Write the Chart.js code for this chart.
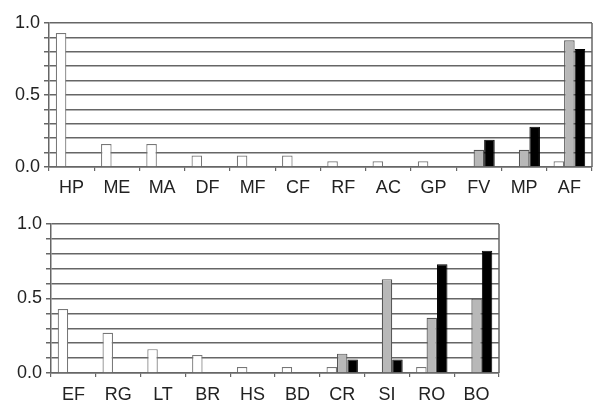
<!DOCTYPE html>
<html>
<head>
<meta charset="utf-8">
<script src="https://cdn.jsdelivr.net/npm/chart.js@4"></script>
<style>
  html, body { margin: 0; padding: 0; background: #fff; }
  .box { position: absolute; left: 0; width: 601px; }
  #top-box { top: 0; height: 200px; }
  #bottom-box { top: 200px; height: 210px; }
</style>
</head>
<body>
<div class="box" id="top-box"><canvas id="top-chart" width="601" height="200"></canvas></div>
<div class="box" id="bottom-box"><canvas id="bottom-chart" width="601" height="210"></canvas></div>
<script>
// top panel
const topLabels = ['HP', 'ME', 'MA', 'DF', 'MF', 'CF', 'RF', 'AC', 'GP', 'FV', 'MP', 'AF'];
const topWhite = [0.93, 0.16, 0.16, 0.08, 0.08, 0.08, 0.04, 0.04, 0.04, null, null, 0.04];
const topGray = [null, null, null, null, null, null, null, null, null, 0.12, 0.12, 0.88];
const topBlack = [null, null, null, null, null, null, null, null, null, 0.19, 0.28, 0.82];

// bottom panel
const bottomLabels = ['EF', 'RG', 'LT', 'BR', 'HS', 'BD', 'CR', 'SI', 'RO', 'BO'];
const bottomWhite = [0.43, 0.27, 0.16, 0.12, 0.04, 0.04, 0.04, null, 0.04, null];
const bottomGray = [null, null, null, null, null, null, 0.13, 0.63, 0.37, 0.50];
const bottomBlack = [null, null, null, null, null, null, 0.09, 0.09, 0.73, 0.82];

const yTickLabels = ['0.0', '0.5', '1.0'];

const gridColor = '#666';
const textColor = '#222';

// closes the plot box on the right side
const rightBorder = {
  id: 'rightBorder',
  afterDraw(chart) {
    const { ctx, chartArea } = chart;
    ctx.save();
    ctx.strokeStyle = gridColor;
    ctx.lineWidth = 1.5;
    ctx.beginPath();
    ctx.moveTo(chartArea.right, chartArea.top);
    ctx.lineTo(chartArea.right, chartArea.bottom);
    ctx.stroke();
    ctx.restore();
  }
};

function makeChart(canvasId, labels, white, gray, black, opts) {
  return new Chart(document.getElementById(canvasId), {
    type: 'bar',
    data: {
      labels: labels,
      datasets: [
        { data: white, backgroundColor: '#fff', borderColor: '#777', borderWidth: 1.2 },
        { data: gray, backgroundColor: '#b8b8b8', borderColor: '#555', borderWidth: 1.2 },
        { data: black, backgroundColor: '#000', borderColor: '#000', borderWidth: 1 }
      ]
    },
    options: {
      responsive: false,
      animation: false,
      layout: { padding: { top: opts.top, right: opts.right, left: 0, bottom: 0 } },
      plugins: { legend: { display: false }, tooltip: { enabled: false } },
      datasets: { bar: { categoryPercentage: 0.7, barPercentage: 1.0 } },
      scales: {
        x: {
          offset: true,
          grid: { display: true, drawOnChartArea: false, drawTicks: true, tickLength: 4, color: gridColor, lineWidth: 1.2 },
          border: { display: true, color: gridColor, width: 1.5 },
          ticks: { color: textColor, font: { family: 'Arial, "Liberation Sans"', size: 18 }, padding: opts.xPad, maxRotation: 0, autoSkip: false },
          afterFit(scale) { scale.height = opts.xHeight; }
        },
        y: {
          min: 0,
          max: 1,
          grid: { color: gridColor, lineWidth: 1.5, tickLength: 5 },
          border: { display: true, color: gridColor, width: 1.5 },
          ticks: {
            stepSize: 0.1,
            autoSkip: false,
            color: textColor,
            padding: 4,
            font: { family: 'Arial, "Liberation Sans"', size: 18 },
            callback(value) {
              const i = Math.round(value * 10);
              return i % 5 === 0 ? yTickLabels[i / 5] : '';
            }
          },
          afterFit(scale) { scale.width = opts.yWidth; }
        }
      }
    },
    plugins: [rightBorder]
  });
}

makeChart('top-chart', topLabels, topWhite, topGray, topBlack,
  { top: 23, right: 9, xHeight: 33, yWidth: 49, xPad: 6 });
makeChart('bottom-chart', bottomLabels, bottomWhite, bottomGray, bottomBlack,
  { top: 24, right: 102, xHeight: 37, yWidth: 51, xPad: 7 });
</script>
</body>
</html>
